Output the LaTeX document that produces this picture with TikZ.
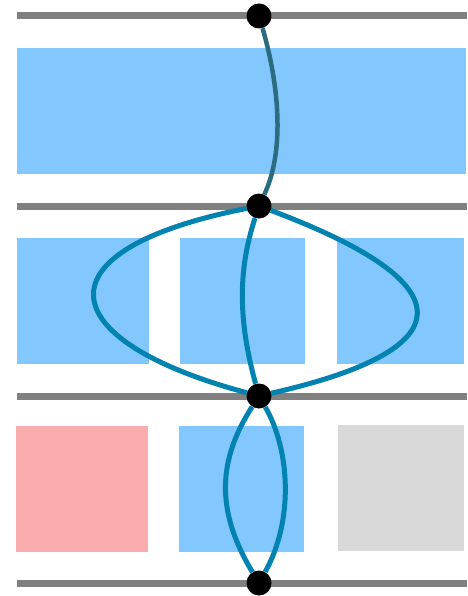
\documentclass[tikz,border=0pt]{standalone}
\begin{document}
\begin{tikzpicture}[x=1pt,y=-1pt,
  railline/.style={draw={rgb,255:red,128;green,128;blue,128},line width=7pt},
  dot/.style={circle,fill=black,inner sep=0pt,minimum size=25pt},
  bluebox/.style={fill={rgb,255:red,130;green,200;blue,255}},
  redbox/.style={fill={rgb,255:red,249;green,172;blue,173}},
  greybox/.style={fill={rgb,255:red,217;green,217;blue,217}},
  darkcurve/.style={draw={rgb,255:red,43;green,108;blue,128},line width=4.5pt},
  curve/.style={draw={rgb,255:red,0;green,131;blue,176},line width=5pt}]
\useasboundingbox (0,0) rectangle (467,596);
% rows of boxes
\fill[bluebox] (17,48) rectangle (466,174);
\fill[bluebox] (17,238) rectangle (149,364);
\fill[bluebox] (180,238) rectangle (305,364);
\fill[bluebox] (337,238) rectangle (464,364);
\fill[redbox] (16,426) rectangle (148,552);
\fill[bluebox] (179,426) rectangle (304,552);
\fill[greybox] (338,425) rectangle (464,551);
% rail lines
\draw[railline] (17,16) -- (467,16);
\draw[railline] (17,206) -- (467,206);
\draw[railline] (17,396) -- (467,396);
\draw[railline] (17,583) -- (467,583);
% dots
\node[dot] (d1) at (259,16) {};
\node[dot] (d2) at (259,206) {};
\node[dot] (d3) at (259,396) {};
\node[dot] (d4) at (259,583) {};
% curves
\draw[darkcurve] (d1) .. controls (279,85) and (285,150) .. (d2);
\draw[curve] (d2) .. controls (35,250) and (50,340) .. (d3);
\draw[curve] (d2) .. controls (470,285) and (462,350) .. (d3);
\draw[curve] (d2) .. controls (238,270) and (238,320) .. (d3);
\draw[curve] (d3) .. controls (218,460) and (215,510) .. (d4);
\draw[curve] (d3) .. controls (290,450) and (294,520) .. (d4);
\end{tikzpicture}
\end{document}
